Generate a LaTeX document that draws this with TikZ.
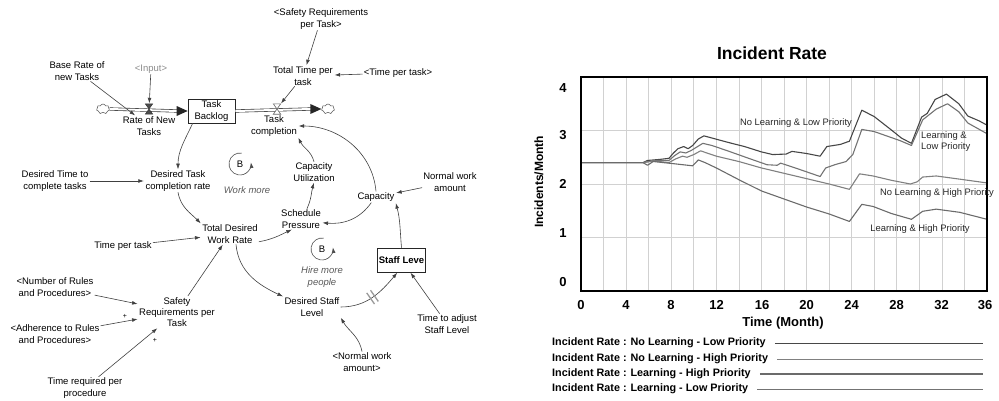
\documentclass[tikz,border=0pt]{standalone}
\usepackage{fontspec}
\setmainfont{Liberation Sans}
\usetikzlibrary{arrows.meta,shapes.symbols}

\begin{document}
\begin{tikzpicture}[x=1pt,y=1pt,
  lbl/.style={align=center, font=\fontsize{9.5}{11.3}\selectfont, inner sep=1pt, text=black},
  ital/.style={align=center, font=\fontsize{9.5}{11.3}\selectfont\itshape, inner sep=1pt, text=black!65},
  stock/.style={draw=black!85, line width=0.7pt, minimum width=47pt, minimum height=24pt,
    align=center, inner sep=1pt, font=\fontsize{9.5}{11.3}\selectfont},
  link/.style={draw=black!75, line width=0.6pt, -{Latex[length=5.5pt,width=3.8pt]}, shorten >=0.5pt},
  pipe/.style={draw=black!80, double=white, double distance=2pt, line width=0.6pt},
  pipehead/.style={fill=black!85},
  valve/.style={minimum width=7pt, minimum height=10pt, inner sep=0pt},
  srccloud/.style={cloud, cloud puffs=7, draw=black!70, fill=white, minimum width=13pt,
    minimum height=10pt, inner sep=0pt, line width=0.5pt},
  loopc/.style={draw=black!70, line width=0.6pt, -{Latex[length=5.5pt,width=4pt]}},
  plus/.style={font=\fontsize{7}{7}\selectfont, inner sep=0pt},
  gridc/.style={draw=black!18, line width=0.6pt},
  tick/.style={font=\fontsize{13}{13}\selectfont\bfseries, inner sep=0pt},
  curvelbl/.style={font=\fontsize{9.4}{11}\selectfont, inner sep=0pt, text=black!85, align=left},
  legtxt/.style={font=\fontsize{10.8}{11}\selectfont\bfseries, inner sep=0pt, anchor=west},
  cA/.style={draw=black!72, line width=1.1pt, line join=round},
  cB/.style={draw=black!55, line width=1.1pt, line join=round},
  cC/.style={draw=black!50, line width=1.1pt, line join=round},
  cD/.style={draw=black!58, line width=1.1pt, line join=round}
]
\useasboundingbox (0,0) rectangle (999,400);

% ---------------- stock and flow structure ----------------
\node[lbl] (baserate) at (77,329) {Base Rate of\\new Tasks};
\node[lbl, text=black!45] (input) at (151,331) {<Input>};
\node[srccloud] (cL) at (103,291) {};
\node[stock] (backlog) at (211.5,289) {Task\\Backlog};
\node[srccloud] (cR) at (328,291) {};
\node[valve] (vN) at (149,291) {};
\node[valve] (vC) at (277,291) {};
\node[lbl] (ratenew) at (149,274) {Rate of New\\Tasks};
\node[lbl] (taskcomp) at (274,274) {Task\\completion};

% pipes with their flow heads
\draw[pipe] (cL.east) -- ([xshift=-10pt]backlog.west);
\fill[pipehead] (backlog.west) -- ++(-11,5) -- ++(0,-10) -- cycle;
\draw[pipe] (backlog.east) -- ([xshift=-10pt]cR.west);
\fill[pipehead] (cR.west) -- ++(-11,5) -- ++(0,-10) -- cycle;
% valves
\filldraw[fill=black!70, draw=black!80, line width=0.5pt]
  (vN.north west) -- (vN.north east) -- (vN.south west) -- (vN.south east) -- cycle;
\filldraw[fill=white, draw=black!60, line width=0.6pt]
  (vC.north west) -- (vC.north east) -- (vC.south west) -- (vC.south east) -- cycle;

% auxiliaries
\node[lbl] (totaltime) at (303,324) {Total Time per\\task};
\node[lbl] (safetyin) at (321,381) {<Safety Requirements\\per Task>};
\node[lbl] (timetaskin) at (398,327) {<Time per task>};
\node[lbl] (desiredtask) at (178,219) {Desired Task\\completion rate};
\node[lbl] (desiredtime) at (55,219) {Desired Time to\\complete tasks};
\node[lbl] (totaldesired) at (230,166) {Total Desired\\Work Rate};
\node[lbl] (timepertask) at (123,154) {Time per task};
\node[lbl] (caputil) at (314,228) {Capacity\\Utilization};
\node[lbl] (schedule) at (301,181) {Schedule\\Pressure};
\node[lbl] (capacity) at (376,203) {Capacity};
\node[lbl] (normalwork) at (450,218) {Normal work\\amount};
\node[stock, font=\fontsize{9.5}{11.3}\selectfont\bfseries] (staff) at (401.5,140) {Staff Leve};
\node[lbl] (desiredstaff) at (312,93) {Desired Staff\\Level};
\node[lbl] (timeadjust) at (447,76) {Time to adjust\\Staff Level};
\node[lbl] (normalworkin) at (362,38) {<Normal work\\amount>};
\node[lbl] (safety) at (177,88) {Safety\\Requirements per\\Task};
\node[lbl] (numrules) at (55,113) {<Number of Rules\\and Procedures>};
\node[lbl] (adherence) at (55,66) {<Adherence to Rules\\and Procedures>};
\node[lbl] (timereq) at (85,12) {Time required per\\procedure};
\node[plus] (plusA) at (125,84) {+};
\node[plus] (plusB) at (155,60) {+};

% balancing loops
\node[lbl] (loopA) at (240,236) {B};
\node[ital] (workmore) at (247,210) {Work more};
\draw[loopc] ([shift={(80:11)}]loopA.center) arc[start angle=80, end angle=368, radius=11pt];
\node[lbl] (loopB) at (322,151) {B};
\node[ital] (hiremore) at (322,123) {Hire more\\people};
\draw[loopc] ([shift={(80:11)}]loopB.center) arc[start angle=80, end angle=368, radius=11pt];

% causal links
\draw[link] (baserate) -- (ratenew);
\draw[link] (input) -- (vN);
\draw[link] (totaltime) -- (vC.north east);
\draw[link] (safetyin) -- (totaltime);
\draw[link] (timetaskin) -- (totaltime);
\draw[link] ([xshift=5pt]backlog.south west) to[out=-115, in=90] (desiredtask.north);
\draw[link] (desiredtime) -- (desiredtask);
\draw[link] (desiredtask.south) to[out=-80, in=135] (totaldesired.north west);
\draw[link] (timepertask) -- (totaldesired);
\draw[link] (totaldesired.-15) to[out=10, in=205] (schedule.-130);
\draw[link] (schedule.60) to[out=65, in=-105] (caputil.south);
\draw[link] (caputil.north) to[out=105, in=-65] (taskcomp.south east);
\draw[link] (capacity.north) to[out=95, in=0] (taskcomp.east);
\draw[link] (capacity.-130) to[out=-125, in=-5] (schedule.-10);
\draw[link] (normalwork) -- (capacity);
\draw[link] (staff.north) to[out=95, in=-75] (capacity.south east);
\draw[link] ([xshift=6pt]totaldesired.south) to[out=-85, in=155] (desiredstaff.north west);
\draw[link] (desiredstaff.east) to[out=0, in=-130]
  node[pos=0.5, sloped, minimum width=4pt, minimum height=13pt, inner sep=0pt] (delaymark) {}
  ([xshift=-4pt]staff.south);
\draw[draw=black!40, line width=1.3pt] (delaymark.north west) -- (delaymark.south west)
  (delaymark.north east) -- (delaymark.south east);
\draw[link] (timeadjust) -- (staff);
\draw[link] (normalworkin.north) to[out=100, in=-60] (desiredstaff.south east);
\draw[link] (safety) -- (totaldesired);
\draw[link] (numrules) -- (safety);
\draw[link] (adherence) -- (safety);
\draw[link] (timereq) -- (safety);

% ---------------- incident rate graph ----------------
\node[font=\fontsize{17.5}{18}\selectfont\bfseries, inner sep=0pt] (title) at (772,347) {Incident Rate};
\node[font=\fontsize{12}{12}\selectfont\bfseries, inner sep=0pt, rotate=90] (ylabel) at (539,218) {Incidents/Month};

\begin{scope}[shift={(581,109)}, x=11.2778pt, y=53.5pt]
  \foreach \t in {2,4,...,34} \draw[gridc] (\t,0) -- (\t,4);
  \foreach \v in {1,2,3} \draw[gridc] (0,\v) -- (36,\v);
  % No Learning & Low Priority
  \draw[cA] plot coordinates {(0,2.4) (5.5,2.4) (5.9,2.44) (7,2.46) (7.8,2.48) (8.2,2.58) (8.6,2.66)
    (9.1,2.7) (9.5,2.66) (9.9,2.72) (10.4,2.84) (10.9,2.9) (11.6,2.86) (13,2.78) (14.5,2.7)
    (16,2.6) (17,2.55) (18.2,2.56) (18.7,2.61) (20,2.57) (21.2,2.52) (21.8,2.7) (23,2.74)
    (23.8,2.8) (24.9,3.38) (26,3.26) (27.7,2.98) (28.4,2.86) (29.3,2.76) (30.2,3.25) (30.7,3.32)
    (31.4,3.58) (32.4,3.68) (33.5,3.5) (34.3,3.27) (35.3,3.18) (36,3.1)};
  % Learning & Low Priority
  \draw[cB] plot coordinates {(0,2.4) (5.5,2.4) (6.5,2.44) (7.8,2.44) (8.3,2.53) (8.8,2.6) (9.3,2.58)
    (9.8,2.63) (10.8,2.76) (11.6,2.72) (13,2.62) (15,2.47) (16.5,2.36) (17.4,2.35) (17.7,2.39)
    (19,2.3) (21.2,2.14) (21.7,2.3) (22.5,2.36) (23.5,2.42) (24.1,2.55) (24.9,3.02) (26,2.98)
    (28.3,2.81) (29.3,2.72) (30.3,3.2) (31.5,3.4) (32.5,3.5) (33.5,3.35) (34.3,3.14) (36,2.94)};
  % No Learning & High Priority
  \draw[cC] plot coordinates {(0,2.4) (5.5,2.4) (6.5,2.43) (7.8,2.4) (8.4,2.47) (9,2.52) (9.4,2.5)
    (10,2.55) (10.6,2.62) (12,2.52) (14,2.42) (16,2.3) (18,2.2) (20,2.1) (22,2.0) (23.8,1.9)
    (24.7,2.19) (25.9,2.15) (27.5,2.07) (29.2,2.0) (29.8,2.04) (30.3,2.13) (31.5,2.15)
    (33.6,2.09) (36,2.02)};
  % Learning & High Priority
  \draw[cD] plot coordinates {(0,2.4) (5.5,2.4) (5.9,2.35) (6.4,2.42) (8.2,2.38) (9.9,2.34)
    (10.4,2.45) (11,2.4) (12,2.3) (14,2.08) (16,1.87) (18,1.72) (20,1.57) (22,1.44) (23.8,1.3)
    (24.9,1.62) (25.9,1.58) (27.5,1.45) (29.3,1.34) (30.3,1.49) (31.5,1.53) (33.6,1.47) (36,1.34)};
  \draw[line width=1.8pt] (0,0) rectangle (36,4);
\end{scope}

% curve labels
\node[curvelbl] (lblA) at (796,277) {No Learning \& Low Priority};
\node[curvelbl, anchor=west] (lblB) at (921,258.5) {Learning \&\\Low Priority};
\node[curvelbl] (lblC) at (937,207) {No Learning \& High Priority};
\node[curvelbl] (lblD) at (920,171) {Learning \& High Priority};

% axis ticks
\node[tick] (y4) at (563,312) {4};
\node[tick] (y3) at (563,265) {3};
\node[tick] (y2) at (563,216) {2};
\node[tick] (y1) at (563,167) {1};
\node[tick] (y0) at (563,118) {0};
\foreach \t/\xx in {0/581,4/626,8/671,12/716.5,16/762,20/806.5,24/851.5,28/896.5,32/941.5,36/985}
  \node[tick] (x\t) at (\xx,95) {\t};
\node[font=\fontsize{13}{13}\selectfont\bfseries, inner sep=0pt] (xlabel) at (783,77) {Time (Month)};

% legend
\coordinate (legR) at (983,0);
\node[legtxt] (leg1) at (552,57) {Incident Rate : No Learning - Low Priority};
\node[legtxt] (leg2) at (552,41) {Incident Rate : No Learning - High Priority};
\node[legtxt] (leg3) at (552,26) {Incident Rate : Learning - High Priority};
\node[legtxt] (leg4) at (552,11) {Incident Rate : Learning - Low Priority};
\draw[cA, line width=0.9pt] ([xshift=9pt]leg1.east) -- (leg1.east -| legR);
\draw[cC, line width=0.9pt] ([xshift=9pt]leg2.east) -- (leg2.east -| legR);
\draw[cD, line width=1.2pt] ([xshift=9pt]leg3.east) -- (leg3.east -| legR);
\draw[cB, line width=0.9pt] ([xshift=9pt]leg4.east) -- (leg4.east -| legR);
\end{tikzpicture}
\end{document}
